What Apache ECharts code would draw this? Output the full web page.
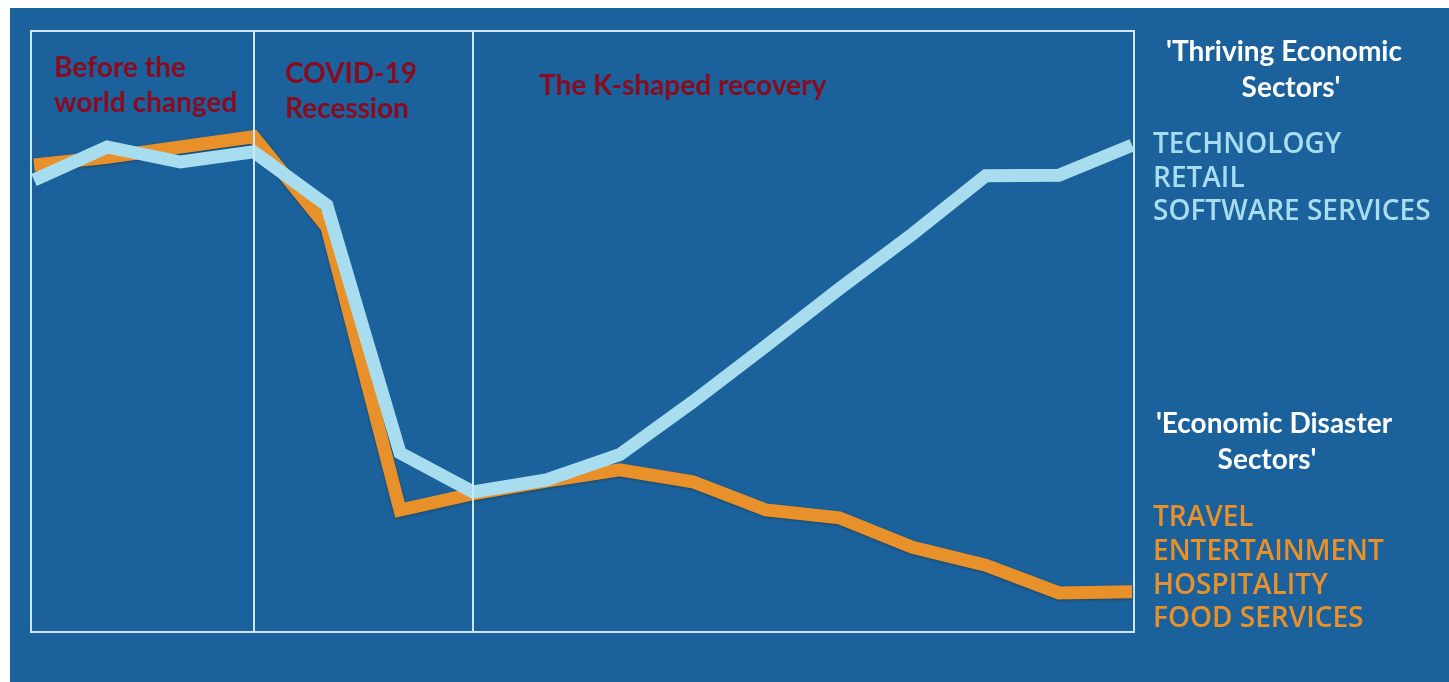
<!DOCTYPE html>
<html>
<head>
<meta charset="utf-8">
<script src="https://cdn.jsdelivr.net/npm/echarts@6/dist/echarts.min.js"></script>
<style>
html,body{margin:0;padding:0;background:#fff;}
#chart{width:1449px;height:682px;background:linear-gradient(#1b629c,#1b629c) 10px 8px / 1439px 674px no-repeat,#fff;}
</style>
</head>
<body>
<div id="chart"></div>
<script>
// period index (time steps)
var periods = [0,1,2,3,4,5,6,7,8,9,10,11,12,13,14,15];
// Thriving sectors (technology, retail, software services)
var thriving = [75.2,80.7,78.2,79.9,71.0,29.8,23.3,25.3,29.5,38.3,47.6,57.1,66.2,75.9,76.0,81.0];
// Disaster sectors (travel, entertainment, hospitality, food services)
var disaster = [77.7,79.0,80.7,82.4,67.4,20.3,23.0,25.1,27.0,25.0,20.3,19.0,14.1,11.1,6.5,6.7];
// phase boundaries
var phaseBreaks = [3,6];
var phaseLabels = [["Before the","world changed"],["COVID-19","Recession"],["The K-shaped recovery"]];
var thrivingTitle = ["'Thriving Economic","Sectors'"];
var thrivingList = ["TECHNOLOGY","RETAIL","SOFTWARE SERVICES"];
var disasterTitle = ["'Economic Disaster","Sectors'"];
var disasterList = ["TRAVEL","ENTERTAINMENT","HOSPITALITY","FOOD SERVICES"];

var RED = '#8a0a1e', LB = '#a8dcef', OR = '#e8912a', WHITE = '#ffffff', BOX = '#cfe6f4';

function pairs(arr){ return periods.map(function(p,i){ return [p, arr[i]]; }); }

var g = [];
function txt(s, x, y, opt){
  g.push({type:'text', x:x, y:y, z:50, silent:true, style:Object.assign({
    text:s, fill:RED, font:'bold 28px Lato', textVerticalAlign:'middle', textAlign:'left'
  }, opt||{})});
}
txt(phaseLabels[0][0], 54, 68);
txt(phaseLabels[0][1], 54, 103);
txt(phaseLabels[1][0], 285, 74);
txt(phaseLabels[1][1], 285, 109);
txt(phaseLabels[2][0], 539, 86);

var wf = {fill:WHITE, font:'bold 28px Lato', textAlign:'center'};
txt(thrivingTitle[0], 1284, 52, wf);
txt(thrivingTitle[1], 1291, 88, wf);
txt(disasterTitle[0], 1274, 424, wf);
txt(disasterTitle[1], 1267, 460, wf);

var capF = '600 28px "Open Sans"';
[145,179,212].forEach(function(y,i){ txt(thrivingList[i], 1153, y, {fill:LB, font:capF}); });
[518,552,586,619].forEach(function(y,i){ txt(disasterList[i], 1153, y, {fill:OR, font:capF}); });

var chart = echarts.init(document.getElementById('chart'));
chart.setOption({
  backgroundColor:'transparent',
  animation:false,
  grid:{left:31, top:31, width:1103, height:601, show:true, borderColor:BOX, borderWidth:2, backgroundColor:'transparent'},
  xAxis:{type:'value', min:-0.041, max:15.027, show:false},
  yAxis:{type:'value', min:0, max:100, show:false},
  graphic:g,
  series:[
    {type:'line', data:[], z:1, silent:true,
     markLine:{silent:true, symbol:'none', label:{show:false},
       lineStyle:{color:BOX, width:2, type:'solid'},
       data:phaseBreaks.map(function(v){ return {xAxis:v}; })}},
    {type:'line', data:pairs(disaster), z:3, symbol:'none', smooth:false,
     lineStyle:{color:OR, width:13, join:'miter', cap:'butt', shadowColor:'rgba(40,30,20,0.45)', shadowBlur:3, shadowOffsetY:1}},
    {type:'line', data:pairs(thriving), z:4, symbol:'none', smooth:false,
     lineStyle:{color:LB, width:13, join:'miter', cap:'butt'}}
  ]
});
</script>
</body>
</html>
